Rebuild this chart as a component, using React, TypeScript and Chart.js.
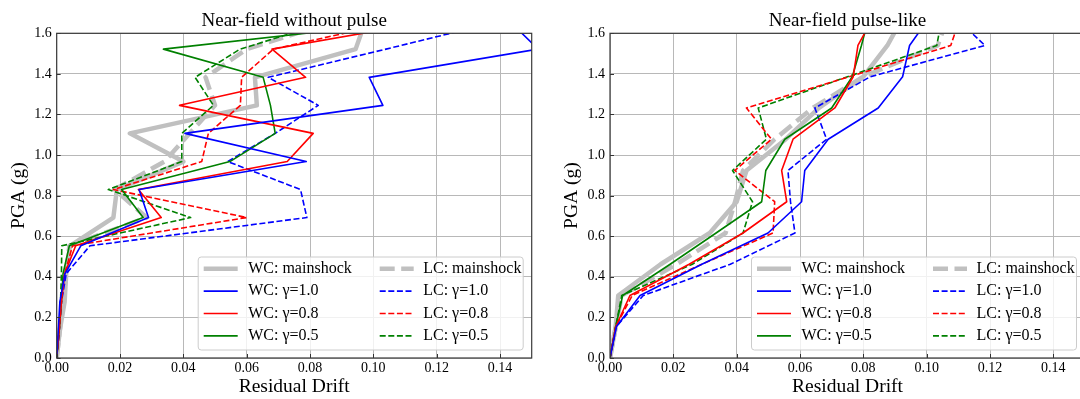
import React, { useEffect, useRef } from "react";
import { Chart, registerables } from "chart.js";

Chart.register(...registerables);

const FONT = '"Liberation Serif", "Times New Roman", Times, serif';

// ---- Data: PGA levels (g) of each record point ----
const PGA_NO_PULSE = [0, 0.138, 0.277, 0.415, 0.553, 0.692, 0.83, 0.968, 1.107, 1.245, 1.383, 1.522, 1.66];
const PGA_PULSE = [0, 0.154, 0.308, 0.462, 0.616, 0.77, 0.924, 1.078, 1.232, 1.386, 1.54, 1.694];

// ---- Near-field without pulse: residual drift ----
const NP_WC_MAIN = [0, 0.001, 0.0025, 0.003, 0.0042, 0.0179, 0.019, 0.04, 0.0231, 0.0632, 0.0626, 0.0944, 0.0975];
const NP_WC_10 = [0, 0.0005, 0.001, 0.0026, 0.0076, 0.029, 0.026, 0.0788, 0.0405, 0.103, 0.0987, 0.152, 0.143];
const NP_WC_08 = [0, 0.0008, 0.0015, 0.0025, 0.006, 0.033, 0.0258, 0.0728, 0.081, 0.0388, 0.0786, 0.068, 0.1187];
const NP_WC_05 = [0, 0.0008, 0.0015, 0.002, 0.004, 0.0273, 0.0205, 0.0547, 0.069, 0.0675, 0.0652, 0.0337, 0.113];
const NP_LC_MAIN = [0, 0.001, 0.002, 0.003, 0.004, 0.0284, 0.0183, 0.034, 0.042, 0.05, 0.047, 0.06, 0.088];
const NP_LC_10 = [0, 0.0008, 0.0015, 0.003, 0.0105, 0.079, 0.077, 0.054, 0.069, 0.0826, 0.0668, 0.104, 0.14];
const NP_LC_08 = [0, 0.0008, 0.0015, 0.0025, 0.005, 0.06, 0.0179, 0.0458, 0.0479, 0.058, 0.0584, 0.0684, 0.108];
const NP_LC_05 = [0, 0.0008, 0.0012, 0.0015, 0.0016, 0.0423, 0.0163, 0.0395, 0.0395, 0.0495, 0.0437, 0.0579, 0.0867];

// ---- Near-field pulse-like: residual drift ----
const P_WC_MAIN = [0, 0.0018, 0.0026, 0.016, 0.0315, 0.04, 0.0431, 0.0555, 0.066, 0.08, 0.0876, 0.093];
const P_WC_10 = [0, 0.002, 0.0095, 0.029, 0.0499, 0.0605, 0.0615, 0.0689, 0.0847, 0.0924, 0.0946, 0.1016];
const P_WC_08 = [0, 0.0018, 0.0063, 0.025, 0.042, 0.0558, 0.0542, 0.0578, 0.071, 0.0768, 0.0783, 0.0837];
const P_WC_05 = [0, 0.0018, 0.004, 0.019, 0.0335, 0.0479, 0.0492, 0.0552, 0.07, 0.0765, 0.0794, 0.082];
const P_LC_MAIN = [0, 0.0018, 0.0037, 0.021, 0.0365, 0.0395, 0.042, 0.052, 0.064, 0.08, 0.1035, 0.107];
const P_LC_10 = [0, 0.002, 0.0105, 0.038, 0.0584, 0.057, 0.0562, 0.0684, 0.0647, 0.0822, 0.1184, 0.108];
const P_LC_08 = [0, 0.0018, 0.007, 0.029, 0.0515, 0.052, 0.0394, 0.051, 0.0431, 0.0755, 0.1076, 0.111];
const P_LC_05 = [0, 0.0018, 0.0037, 0.026, 0.042, 0.045, 0.0387, 0.0494, 0.0468, 0.075, 0.1032, 0.105];

const SERIES_LABELS = [
  "WC: mainshock",
  "WC: γ=1.0",
  "WC: γ=0.8",
  "WC: γ=0.5",
  "LC: mainshock",
  "LC: γ=1.0",
  "LC: γ=0.8",
  "LC: γ=0.5",
];

const X_MIN = 0;
const X_MAX = 0.15;
const X_STEP = 0.02;
const Y_MIN = 0;
const Y_MAX = 1.6;
const Y_STEP = 0.2;

const GRAY = "#c0c0c0";
const STYLES = [
  { color: GRAY, width: 4.5, dash: [] as number[], order: 2 },
  { color: "#0000ff", width: 1.6, dash: [] as number[], order: 1 },
  { color: "#ff0000", width: 1.6, dash: [] as number[], order: 1 },
  { color: "#008000", width: 1.6, dash: [] as number[], order: 1 },
  { color: GRAY, width: 4.5, dash: [15, 6.5], order: 2 },
  { color: "#0000ff", width: 1.6, dash: [6, 2.6], order: 1 },
  { color: "#ff0000", width: 1.6, dash: [6, 2.6], order: 1 },
  { color: "#008000", width: 1.6, dash: [6, 2.6], order: 1 },
];

function buildDatasets(levels: number[], series: number[][]) {
  return series.map((xs, i) => ({
    label: SERIES_LABELS[i],
    data: xs.map((x, k) => ({ x, y: levels[k] })),
    showLine: true,
    borderColor: STYLES[i].color,
    backgroundColor: STYLES[i].color,
    borderWidth: STYLES[i].width,
    borderDash: STYLES[i].dash,
    borderJoinStyle: "round" as const,
    borderCapStyle: "butt" as const,
    pointRadius: 0,
    pointHoverRadius: 0,
    fill: false,
    tension: 0,
    order: STYLES[i].order,
    clip: 0,
  }));
}

const framePlugin = {
  id: "frameAndLegend",
  afterDatasetsDraw(chart: any) {
    const { ctx, chartArea: a, scales } = chart;
    ctx.save();
    ctx.strokeStyle = "#333333";
    ctx.lineWidth = 1;
    ctx.setLineDash([]);
    // inward ticks
    scales.x.ticks.forEach((t: any) => {
      const px = Math.round(scales.x.getPixelForValue(t.value)) + 0.5;
      ctx.beginPath();
      ctx.moveTo(px, a.bottom);
      ctx.lineTo(px, a.bottom - 4);
      ctx.stroke();
    });
    scales.y.ticks.forEach((t: any) => {
      const py = Math.round(scales.y.getPixelForValue(t.value)) + 0.5;
      ctx.beginPath();
      ctx.moveTo(a.left, py);
      ctx.lineTo(a.left + 4, py);
      ctx.stroke();
    });
    ctx.lineWidth = 1.2;
    ctx.strokeStyle = "#3a3a3a";
    ctx.strokeRect(a.left, a.top, a.right - a.left, a.bottom - a.top);
    ctx.restore();
  },
  afterDraw(chart: any) {
    const { ctx, chartArea: a } = chart;
    const W = 325;
    const H = 93;
    const x0 = a.right - 8.5 - W;
    const y0 = a.bottom - 8 - H;
    const r = 3;
    ctx.save();
    ctx.beginPath();
    ctx.moveTo(x0 + r, y0);
    ctx.arcTo(x0 + W, y0, x0 + W, y0 + H, r);
    ctx.arcTo(x0 + W, y0 + H, x0, y0 + H, r);
    ctx.arcTo(x0, y0 + H, x0, y0, r);
    ctx.arcTo(x0, y0, x0 + W, y0, r);
    ctx.closePath();
    ctx.fillStyle = "rgba(255,255,255,0.8)";
    ctx.fill();
    ctx.strokeStyle = "#cccccc";
    ctx.lineWidth = 1;
    ctx.stroke();
    chart.data.datasets.forEach((d: any, i: number) => {
      const col = Math.floor(i / 4);
      const row = i % 4;
      const y = y0 + 11.7 + row * 22.4;
      const hx = x0 + (col ? 181.5 : 5.5);
      ctx.beginPath();
      ctx.strokeStyle = d.borderColor;
      ctx.lineWidth = d.borderWidth;
      ctx.lineCap = "butt";
      ctx.setLineDash(d.borderDash || []);
      ctx.moveTo(hx, y);
      ctx.lineTo(hx + 34, y);
      ctx.stroke();
      ctx.setLineDash([]);
      ctx.fillStyle = "#000000";
      ctx.font = `16px ${FONT}`;
      ctx.textAlign = "left";
      ctx.textBaseline = "middle";
      ctx.fillText(d.label, x0 + (col ? 225 : 50), y);
    });
    ctx.restore();
  },
};

type PanelProps = {
  title: string;
  levels: number[];
  series: number[][];
  left: number;
  width: number;
  padLeft: number;
  padRight: number;
};

function Panel({ title, levels, series, left, width, padLeft, padRight }: PanelProps) {
  const ref = useRef<HTMLCanvasElement>(null);
  useEffect(() => {
    const canvas = ref.current;
    if (!canvas) return;
    const chart = new Chart(canvas, {
      type: "scatter",
      data: { datasets: buildDatasets(levels, series) as any },
      options: {
        animation: false,
        responsive: false,
        devicePixelRatio: 1,
        events: [],
        layout: { padding: { left: padLeft, right: padRight, top: 0, bottom: 0 } },
        plugins: {
          legend: { display: false },
          tooltip: { enabled: false },
          title: {
            display: true,
            fullSize: false,
            text: title,
            color: "#000000",
            font: { family: FONT, size: 19, weight: "normal" as any, lineHeight: 1.2 },
            padding: { top: 9.6, bottom: 0.9 },
          },
        },
        scales: {
          x: {
            type: "linear",
            min: X_MIN,
            max: X_MAX,
            border: { display: false },
            grid: { color: "#b8b8b8", lineWidth: 1, drawTicks: false },
            ticks: {
              stepSize: X_STEP,
              includeBounds: false,
              autoSkip: false,
              maxRotation: 0,
              padding: 1.6,
              color: "#000000",
              font: { family: FONT, size: 14 },
              callback: (v: any) => Number(v).toFixed(2),
            },
            title: {
              display: true,
              text: "Residual Drift",
              color: "#000000",
              font: { family: FONT, size: 19.5, lineHeight: 1.2 },
              padding: { top: 0, bottom: 0.3 },
            },
            afterFit: (s: any) => {
              s.height = 41;
            },
          },
          y: {
            type: "linear",
            min: Y_MIN,
            max: Y_MAX,
            border: { display: false },
            grid: { color: "#b8b8b8", lineWidth: 1, drawTicks: false },
            ticks: {
              stepSize: Y_STEP,
              autoSkip: false,
              padding: 5,
              color: "#000000",
              font: { family: FONT, size: 14 },
              callback: (v: any) => Number(v).toFixed(1),
            },
            title: {
              display: true,
              text: "PGA (g)",
              color: "#000000",
              font: { family: FONT, size: 19.5, lineHeight: 1.2 },
              padding: { top: 6.8, bottom: 0 },
            },
            afterFit: (s: any) => {
              s.width = 56.7;
            },
          },
        },
      },
      plugins: [framePlugin as any],
    });
    return () => chart.destroy();
  }, []);
  return (
    <canvas
      ref={ref}
      width={width}
      height={399}
      style={{ position: "absolute", left, top: 0, width, height: 399, display: "block" }}
    />
  );
}

export default function App() {
  return (
    <div
      style={{
        position: "fixed",
        left: 0,
        top: 0,
        width: 1080,
        height: 399,
        overflow: "hidden",
        background: "#ffffff",
      }}
    >
      <Panel
        title="Near-field without pulse"
        levels={PGA_NO_PULSE}
        series={[NP_WC_MAIN, NP_WC_10, NP_WC_08, NP_WC_05, NP_LC_MAIN, NP_LC_10, NP_LC_08, NP_LC_05]}
        left={0}
        width={540}
        padLeft={0}
        padRight={8.3}
      />
      <Panel
        title="Near-field pulse-like"
        levels={PGA_PULSE}
        series={[P_WC_MAIN, P_WC_10, P_WC_08, P_WC_05, P_LC_MAIN, P_LC_10, P_LC_08, P_LC_05]}
        left={540}
        width={560}
        padLeft={13.3}
        padRight={15}
      />
    </div>
  );
}
